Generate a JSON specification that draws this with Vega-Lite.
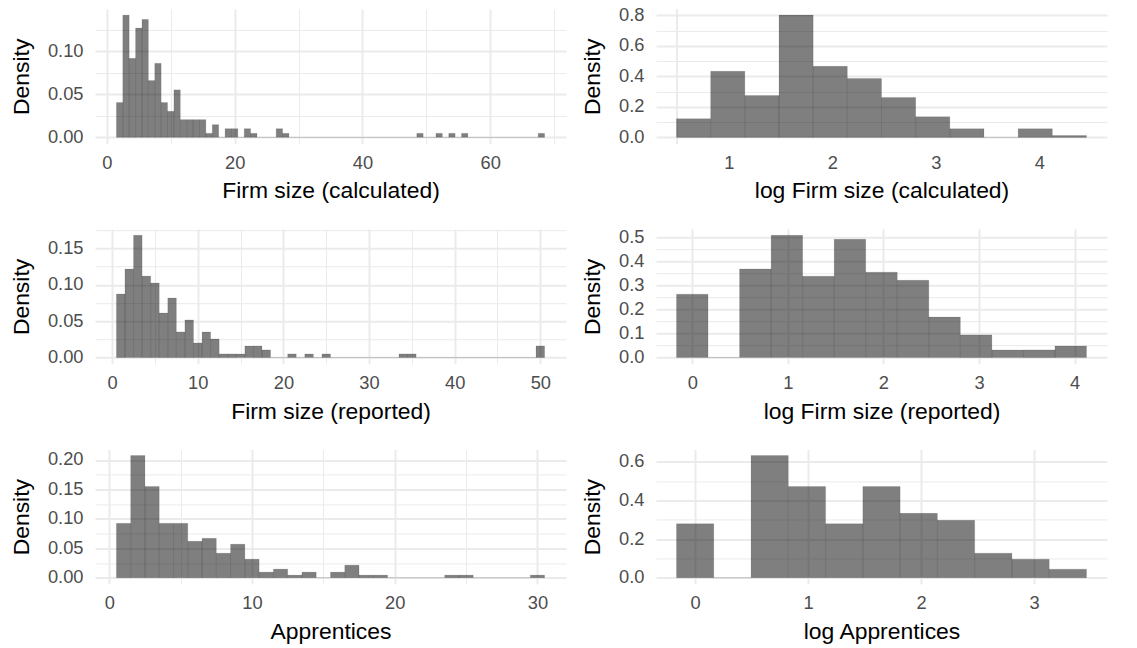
{
  "$schema": "https://vega.github.io/schema/vega-lite/v6.json",
  "padding": {"left": 10, "top": 5, "right": 5, "bottom": 5},
  "background": "#ffffff",
  "datasets": {
    "a": [
      {"start":1.5,"end":2.5,"density":0.0405},{"start":2.5,"end":3.5,"density":0.142},{"start":3.5,"end":4.5,"density":0.0918},
      {"start":4.5,"end":5.5,"density":0.127},{"start":5.5,"end":6.5,"density":0.137},{"start":6.5,"end":7.5,"density":0.066},
      {"start":7.5,"end":8.5,"density":0.086},{"start":8.5,"end":9.5,"density":0.0405},{"start":9.5,"end":10.5,"density":0.0303},
      {"start":10.5,"end":11.5,"density":0.0552},{"start":11.5,"end":12.5,"density":0.0206},{"start":12.5,"end":13.5,"density":0.0206},
      {"start":13.5,"end":14.5,"density":0.0206},{"start":14.5,"end":15.5,"density":0.0206},{"start":15.5,"end":16.5,"density":0.0047},
      {"start":16.5,"end":17.5,"density":0.0148},{"start":17.5,"end":18.5,"density":0},{"start":18.5,"end":19.5,"density":0.0101},
      {"start":19.5,"end":20.5,"density":0.0101},{"start":20.5,"end":21.5,"density":0},{"start":21.5,"end":22.5,"density":0.0101},
      {"start":22.5,"end":23.5,"density":0.0047},{"start":23.5,"end":24.5,"density":0},{"start":24.5,"end":25.5,"density":0},
      {"start":25.5,"end":26.5,"density":0},{"start":26.5,"end":27.5,"density":0.0101},{"start":27.5,"end":28.5,"density":0.0047},
      {"start":28.5,"end":29.5,"density":0},{"start":29.5,"end":30.5,"density":0},{"start":30.5,"end":31.5,"density":0},
      {"start":31.5,"end":32.5,"density":0},{"start":32.5,"end":33.5,"density":0},{"start":33.5,"end":34.5,"density":0},
      {"start":34.5,"end":35.5,"density":0},{"start":35.5,"end":36.5,"density":0},{"start":36.5,"end":37.5,"density":0},
      {"start":37.5,"end":38.5,"density":0},{"start":38.5,"end":39.5,"density":0},{"start":39.5,"end":40.5,"density":0},
      {"start":40.5,"end":41.5,"density":0},{"start":41.5,"end":42.5,"density":0},{"start":42.5,"end":43.5,"density":0},
      {"start":43.5,"end":44.5,"density":0},{"start":44.5,"end":45.5,"density":0},{"start":45.5,"end":46.5,"density":0},
      {"start":46.5,"end":47.5,"density":0},{"start":47.5,"end":48.5,"density":0},{"start":48.5,"end":49.5,"density":0.0047},
      {"start":49.5,"end":50.5,"density":0},{"start":50.5,"end":51.5,"density":0},{"start":51.5,"end":52.5,"density":0.0047},
      {"start":52.5,"end":53.5,"density":0},{"start":53.5,"end":54.5,"density":0.0047},{"start":54.5,"end":55.5,"density":0},
      {"start":55.5,"end":56.5,"density":0.0047},{"start":56.5,"end":57.5,"density":0},{"start":57.5,"end":58.5,"density":0},
      {"start":58.5,"end":59.5,"density":0},{"start":59.5,"end":60.5,"density":0},{"start":60.5,"end":61.5,"density":0},
      {"start":61.5,"end":62.5,"density":0},{"start":62.5,"end":63.5,"density":0},{"start":63.5,"end":64.5,"density":0},
      {"start":64.5,"end":65.5,"density":0},{"start":65.5,"end":66.5,"density":0},{"start":66.5,"end":67.5,"density":0},
      {"start":67.5,"end":68.5,"density":0.0047}
    ],
    "b": [
      {"start":0.495,"end":0.825,"density":0.123},{"start":0.825,"end":1.155,"density":0.433},{"start":1.155,"end":1.485,"density":0.275},
      {"start":1.485,"end":1.815,"density":0.802},{"start":1.815,"end":2.145,"density":0.466},{"start":2.145,"end":2.475,"density":0.387},
      {"start":2.475,"end":2.805,"density":0.262},{"start":2.805,"end":3.135,"density":0.136},{"start":3.135,"end":3.465,"density":0.057},
      {"start":3.465,"end":3.795,"density":0},{"start":3.795,"end":4.125,"density":0.057},{"start":4.125,"end":4.455,"density":0.013}
    ],
    "c": [
      {"start":0.5,"end":1.5,"density":0.0874},{"start":1.5,"end":2.5,"density":0.1217},{"start":2.5,"end":3.5,"density":0.168},
      {"start":3.5,"end":4.5,"density":0.112},{"start":4.5,"end":5.5,"density":0.1025},{"start":5.5,"end":6.5,"density":0.0613},
      {"start":6.5,"end":7.5,"density":0.0819},{"start":7.5,"end":8.5,"density":0.0352},{"start":8.5,"end":9.5,"density":0.0517},
      {"start":9.5,"end":10.5,"density":0.0201},{"start":10.5,"end":11.5,"density":0.0352},{"start":11.5,"end":12.5,"density":0.0256},
      {"start":12.5,"end":13.5,"density":0.005},{"start":13.5,"end":14.5,"density":0.005},{"start":14.5,"end":15.5,"density":0.005},
      {"start":15.5,"end":16.5,"density":0.016},{"start":16.5,"end":17.5,"density":0.016},{"start":17.5,"end":18.5,"density":0.0105},
      {"start":18.5,"end":19.5,"density":0},{"start":19.5,"end":20.5,"density":0},{"start":20.5,"end":21.5,"density":0.005},
      {"start":21.5,"end":22.5,"density":0},{"start":22.5,"end":23.5,"density":0.005},{"start":23.5,"end":24.5,"density":0},
      {"start":24.5,"end":25.5,"density":0.005},{"start":25.5,"end":26.5,"density":0},{"start":26.5,"end":27.5,"density":0},
      {"start":27.5,"end":28.5,"density":0},{"start":28.5,"end":29.5,"density":0},{"start":29.5,"end":30.5,"density":0},
      {"start":30.5,"end":31.5,"density":0},{"start":31.5,"end":32.5,"density":0},{"start":32.5,"end":33.5,"density":0},
      {"start":33.5,"end":34.5,"density":0.005},{"start":34.5,"end":35.5,"density":0.005},{"start":35.5,"end":36.5,"density":0},
      {"start":36.5,"end":37.5,"density":0},{"start":37.5,"end":38.5,"density":0},{"start":38.5,"end":39.5,"density":0},
      {"start":39.5,"end":40.5,"density":0},{"start":40.5,"end":41.5,"density":0},{"start":41.5,"end":42.5,"density":0},
      {"start":42.5,"end":43.5,"density":0},{"start":43.5,"end":44.5,"density":0},{"start":44.5,"end":45.5,"density":0},
      {"start":45.5,"end":46.5,"density":0},{"start":46.5,"end":47.5,"density":0},{"start":47.5,"end":48.5,"density":0},
      {"start":48.5,"end":49.5,"density":0},{"start":49.5,"end":50.5,"density":0.016}
    ],
    "d": [
      {"start":-0.165,"end":0.165,"density":0.2634},{"start":0.165,"end":0.495,"density":0},{"start":0.495,"end":0.825,"density":0.368},
      {"start":0.825,"end":1.155,"density":0.5076},{"start":1.155,"end":1.485,"density":0.338},{"start":1.485,"end":1.815,"density":0.491},
      {"start":1.815,"end":2.145,"density":0.3545},{"start":2.145,"end":2.475,"density":0.321},{"start":2.475,"end":2.805,"density":0.168},
      {"start":2.805,"end":3.135,"density":0.094},{"start":3.135,"end":3.465,"density":0.0317},{"start":3.465,"end":3.795,"density":0.0317},
      {"start":3.795,"end":4.125,"density":0.048}
    ],
    "e": [
      {"start":0.5,"end":1.5,"density":0.0924},{"start":1.5,"end":2.5,"density":0.2075},{"start":2.5,"end":3.5,"density":0.155},
      {"start":3.5,"end":4.5,"density":0.0924},{"start":4.5,"end":5.5,"density":0.0924},{"start":5.5,"end":6.5,"density":0.062},
      {"start":6.5,"end":7.5,"density":0.067},{"start":7.5,"end":8.5,"density":0.0417},{"start":8.5,"end":9.5,"density":0.057},
      {"start":9.5,"end":10.5,"density":0.0316},{"start":10.5,"end":11.5,"density":0.0096},{"start":11.5,"end":12.5,"density":0.0147},
      {"start":12.5,"end":13.5,"density":0.0045},{"start":13.5,"end":14.5,"density":0.0096},{"start":14.5,"end":15.5,"density":0},
      {"start":15.5,"end":16.5,"density":0.0096},{"start":16.5,"end":17.5,"density":0.0214},{"start":17.5,"end":18.5,"density":0.0045},
      {"start":18.5,"end":19.5,"density":0.0045},{"start":19.5,"end":20.5,"density":0},{"start":20.5,"end":21.5,"density":0},
      {"start":21.5,"end":22.5,"density":0},{"start":22.5,"end":23.5,"density":0},{"start":23.5,"end":24.5,"density":0.0045},
      {"start":24.5,"end":25.5,"density":0.0045},{"start":25.5,"end":26.5,"density":0},{"start":26.5,"end":27.5,"density":0},
      {"start":27.5,"end":28.5,"density":0},{"start":28.5,"end":29.5,"density":0},{"start":29.5,"end":30.5,"density":0.0045}
    ],
    "f": [
      {"start":-0.165,"end":0.165,"density":0.279},{"start":0.165,"end":0.495,"density":0},{"start":0.495,"end":0.825,"density":0.631},
      {"start":0.825,"end":1.155,"density":0.471},{"start":1.155,"end":1.485,"density":0.279},{"start":1.485,"end":1.815,"density":0.471},
      {"start":1.815,"end":2.145,"density":0.3325},{"start":2.145,"end":2.475,"density":0.2965},{"start":2.475,"end":2.805,"density":0.127},
      {"start":2.805,"end":3.135,"density":0.096},{"start":3.135,"end":3.465,"density":0.0446}
    ]
  },
  "columns": 2,
  "spacing": {"row": 85.2, "column": 90},
  "bounds": "flush",
  "concat": [
    {
      "width": 471, "height": 134.5,
      "data": {"name": "a"},
      "mark": {"type": "bar", "fill": "#000000", "fillOpacity": 0.5, "stroke": "#000000", "strokeOpacity": 0.2, "strokeWidth": 0.5},
      "encoding": {
        "x": {"field": "start", "type": "quantitative", "scale": {"domain": [-1.85, 71.85], "nice": false, "zero": false},
              "axis": {"title": "Firm size (calculated)", "values": [0,10,20,30,40,50,60,70], "format": "d",
                       "labelExpr": "datum.value % 20 === 0 ? datum.label : ''",
                       "gridWidth": {"condition": {"test": "datum.value % 20 === 0", "value": 2}, "value": 1}}},
        "x2": {"field": "end"},
        "y": {"field": "density", "type": "quantitative", "scale": {"domain": [-0.0071, 0.1491], "nice": false, "zero": false},
              "axis": {"title": "Density", "values": [0,0.025,0.05,0.075,0.1,0.125], "format": ".2f",
                       "labelExpr": "abs(datum.value*20 - round(datum.value*20)) < 0.001 ? datum.label : ''",
                       "gridWidth": {"condition": {"test": "abs(datum.value*20 - round(datum.value*20)) < 0.001", "value": 2}, "value": 1}}},
        "y2": {"datum": 0}
      }
    },
    {
      "width": 451, "height": 134.5,
      "data": {"name": "b"},
      "layer": [
        {
          "mark": {"type": "rule", "color": "#EBEBEB", "strokeWidth": 1},
          "encoding": {
            "x": {"datum": 0.5, "type": "quantitative", "scale": {"domain": [0.297, 4.653], "nice": false, "zero": false},
                  "axis": {"title": "log Firm size (calculated)"}}
          }
        },
        {
          "mark": {"type": "bar", "fill": "#000000", "fillOpacity": 0.5, "stroke": "#000000", "strokeOpacity": 0.2, "strokeWidth": 0.5},
          "encoding": {
            "x": {"field": "start", "type": "quantitative", "scale": {"domain": [0.297, 4.653], "nice": false, "zero": false},
                  "axis": {"title": "log Firm size (calculated)", "values": [1,1.5,2,2.5,3,3.5,4,4.5], "format": "d",
                           "labelExpr": "datum.value % 1 === 0 ? datum.label : ''",
                           "gridWidth": {"condition": {"test": "datum.value % 1 === 0", "value": 2}, "value": 1}}},
            "x2": {"field": "end"},
            "y": {"field": "density", "type": "quantitative", "scale": {"domain": [-0.0401, 0.8421], "nice": false, "zero": false},
                  "axis": {"title": "Density", "values": [0,0.1,0.2,0.3,0.4,0.5,0.6,0.7,0.8], "format": ".1f",
                           "labelExpr": "abs(datum.value*5 - round(datum.value*5)) < 0.001 ? datum.label : ''",
                           "gridWidth": {"condition": {"test": "abs(datum.value*5 - round(datum.value*5)) < 0.001", "value": 2}, "value": 1}}},
            "y2": {"datum": 0}
          }
        }
      ]
    },
    {
      "width": 471, "height": 134.5,
      "data": {"name": "c"},
      "mark": {"type": "bar", "fill": "#000000", "fillOpacity": 0.5, "stroke": "#000000", "strokeOpacity": 0.2, "strokeWidth": 0.5},
      "encoding": {
        "x": {"field": "start", "type": "quantitative", "scale": {"domain": [-2, 53], "nice": false, "zero": false},
              "axis": {"title": "Firm size (reported)", "values": [0,5,10,15,20,25,30,35,40,45,50], "format": "d",
                       "labelExpr": "datum.value % 10 === 0 ? datum.label : ''",
                       "gridWidth": {"condition": {"test": "datum.value % 10 === 0", "value": 2}, "value": 1}}},
        "x2": {"field": "end"},
        "y": {"field": "density", "type": "quantitative", "scale": {"domain": [-0.0084, 0.1764], "nice": false, "zero": false},
              "axis": {"title": "Density", "values": [0,0.025,0.05,0.075,0.1,0.125,0.15,0.175], "format": ".2f",
                       "labelExpr": "abs(datum.value*20 - round(datum.value*20)) < 0.001 ? datum.label : ''",
                       "gridWidth": {"condition": {"test": "abs(datum.value*20 - round(datum.value*20)) < 0.001", "value": 2}, "value": 1}}},
        "y2": {"datum": 0}
      }
    },
    {
      "width": 451, "height": 134.5,
      "data": {"name": "d"},
      "mark": {"type": "bar", "fill": "#000000", "fillOpacity": 0.5, "stroke": "#000000", "strokeOpacity": 0.2, "strokeWidth": 0.5},
      "encoding": {
        "x": {"field": "start", "type": "quantitative", "scale": {"domain": [-0.3795, 4.3395], "nice": false, "zero": false},
              "axis": {"title": "log Firm size (reported)", "values": [0,0.5,1,1.5,2,2.5,3,3.5,4], "format": "d",
                       "labelExpr": "datum.value % 1 === 0 ? datum.label : ''",
                       "gridWidth": {"condition": {"test": "datum.value % 1 === 0", "value": 2}, "value": 1}}},
        "x2": {"field": "end"},
        "y": {"field": "density", "type": "quantitative", "scale": {"domain": [-0.0254, 0.533], "nice": false, "zero": false},
              "axis": {"title": "Density", "values": [0,0.05,0.1,0.15,0.2,0.25,0.3,0.35,0.4,0.45,0.5], "format": ".1f",
                       "labelExpr": "abs(datum.value*10 - round(datum.value*10)) < 0.001 ? datum.label : ''",
                       "gridWidth": {"condition": {"test": "abs(datum.value*10 - round(datum.value*10)) < 0.001", "value": 2}, "value": 1}}},
        "y2": {"datum": 0}
      }
    },
    {
      "width": 471, "height": 134.5,
      "data": {"name": "e"},
      "mark": {"type": "bar", "fill": "#000000", "fillOpacity": 0.5, "stroke": "#000000", "strokeOpacity": 0.2, "strokeWidth": 0.5},
      "encoding": {
        "x": {"field": "start", "type": "quantitative", "scale": {"domain": [-1, 32], "nice": false, "zero": false},
              "axis": {"title": "Apprentices", "values": [0,5,10,15,20,25,30], "format": "d",
                       "labelExpr": "datum.value % 10 === 0 ? datum.label : ''",
                       "gridWidth": {"condition": {"test": "datum.value % 10 === 0", "value": 2}, "value": 1}}},
        "x2": {"field": "end"},
        "y": {"field": "density", "type": "quantitative", "scale": {"domain": [-0.0104, 0.2179], "nice": false, "zero": false},
              "axis": {"title": "Density", "values": [0,0.025,0.05,0.075,0.1,0.125,0.15,0.175,0.2], "format": ".2f",
                       "labelExpr": "abs(datum.value*20 - round(datum.value*20)) < 0.001 ? datum.label : ''",
                       "gridWidth": {"condition": {"test": "abs(datum.value*20 - round(datum.value*20)) < 0.001", "value": 2}, "value": 1}}},
        "y2": {"datum": 0}
      }
    },
    {
      "width": 451, "height": 134.5,
      "data": {"name": "f"},
      "mark": {"type": "bar", "fill": "#000000", "fillOpacity": 0.5, "stroke": "#000000", "strokeOpacity": 0.2, "strokeWidth": 0.5},
      "encoding": {
        "x": {"field": "start", "type": "quantitative", "scale": {"domain": [-0.3465, 3.6465], "nice": false, "zero": false},
              "axis": {"title": "log Apprentices", "values": [0,0.5,1,1.5,2,2.5,3,3.5], "format": "d",
                       "labelExpr": "datum.value % 1 === 0 ? datum.label : ''",
                       "gridWidth": {"condition": {"test": "datum.value % 1 === 0", "value": 2}, "value": 1}}},
        "x2": {"field": "end"},
        "y": {"field": "density", "type": "quantitative", "scale": {"domain": [-0.0316, 0.6626], "nice": false, "zero": false},
              "axis": {"title": "Density", "values": [0,0.1,0.2,0.3,0.4,0.5,0.6], "format": ".1f",
                       "labelExpr": "abs(datum.value*5 - round(datum.value*5)) < 0.001 ? datum.label : ''",
                       "gridWidth": {"condition": {"test": "abs(datum.value*5 - round(datum.value*5)) < 0.001", "value": 2}, "value": 1}}},
        "y2": {"datum": 0}
      }
    }
  ],
  "config": {
    "view": {"stroke": null},
    "font": "Liberation Sans",
    "bar": {"binSpacing": 0},
    "axis": {
      "domain": false, "ticks": false, "tickSize": 0,
      "labelFont": "Liberation Sans", "labelFontSize": 18.3, "labelColor": "#4D4D4D",
      "labelFlush": false, "labelOverlap": false,
      "titleFont": "Liberation Sans", "titleFontSize": 22.9, "titleFontWeight": "normal", "titleColor": "#000000",
      "gridColor": "#EBEBEB"
    },
    "axisX": {"labelBaseline": "alphabetic", "labelPadding": 25, "titleBaseline": "alphabetic", "titleY": 54.4},
    "axisY": {"labelPadding": 12, "titlePadding": 14}
  }
}
